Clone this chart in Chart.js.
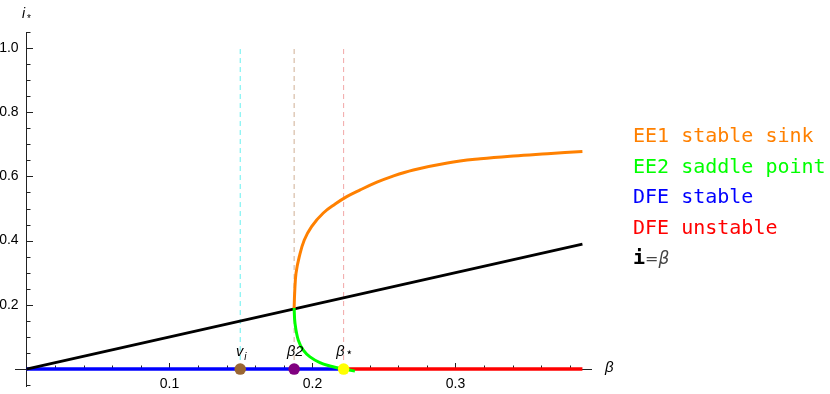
<!DOCTYPE html>
<html>
<head>
<meta charset="utf-8">
<script src="https://cdn.jsdelivr.net/npm/chart.js@4.4.1/dist/chart.umd.min.js"></script>
<style>
    html, body { margin: 0; padding: 0; background: #fff; }
    #wrap { position: relative; width: 830px; height: 394px; }
    #legend {
        position: absolute; left: 633px; top: 120px;
        font-family: 'DejaVu Sans Mono', monospace; font-size: 20px;
        line-height: 30.5px;
    }
    #legend div { white-space: nowrap; height: 30.5px; }
    #legend .eq { font-family: 'DejaVu Sans', sans-serif; font-size: 16px; color: #444; line-height: 1; }
    #legend .bt { font-family: 'DejaVu Sans', sans-serif; font-style: italic; font-size: 17px; color: #444; line-height: 1; }
</style>
</head>
<body>
<div id="wrap">
    <canvas id="chart" width="830" height="394"></canvas>
    <div id="legend">
        <div style="color:#ff8000">EE1 stable sink</div>
        <div style="color:#00ff00">EE2 saddle point</div>
        <div style="color:#0000ff">DFE stable</div>
        <div style="color:#ff0000">DFE unstable</div>
        <div style="color:#000"><b>i</b><span class="eq">=</span><span class="bt">β</span></div>
    </div>
</div>
<script>
/* ======== Data ======== */
const xMin = -0.008, xMax = 0.3955;
const yMin = -0.056, yMax = 1.05;

const xMajorTicks = [0.1, 0.2, 0.3];
const xMinorTicks = [0.02, 0.04, 0.06, 0.08, 0.12, 0.14, 0.16, 0.18, 0.22, 0.24, 0.26, 0.28, 0.32, 0.34, 0.36, 0.38];
const yMajorTicks = [0.2, 0.4, 0.6, 0.8, 1.0];
const yMinorTicks = [-0.05, 0.05, 0.1, 0.15, 0.25, 0.3, 0.35, 0.45, 0.5, 0.55, 0.65, 0.7, 0.75, 0.85, 0.9, 0.95, 1.05];

// EE1 (stable sink) branch
const ee1Beta = [0.1872, 0.1876, 0.1885, 0.1908, 0.1943, 0.1994, 0.2076, 0.2159, 0.2240, 0.2334, 0.2451, 0.2544, 0.2706, 0.2944, 0.3175, 0.3406, 0.3644, 0.3888];
const ee1I    = [0.190, 0.240, 0.298, 0.350, 0.402, 0.444, 0.486, 0.514, 0.537, 0.558, 0.582, 0.598, 0.620, 0.642, 0.655, 0.664, 0.671, 0.678];
// EE2 (saddle point) branch
const ee2Beta = [0.1872, 0.1878, 0.1901, 0.1936, 0.1983, 0.2052, 0.2122, 0.2192, 0.2218, 0.2297];
const ee2I    = [0.190, 0.143, 0.090, 0.059, 0.038, 0.020, 0.0094, 0.0022, 0.0, -0.0065];
// disease free equilibrium
const dfeStableBeta = [0, 0.2218];
const dfeUnstableBeta = [0.2218, 0.3888];
// i = beta reference line
const diagBeta = [0, 0.3888];

// special points: v_i, beta2, beta*
const markerBeta = [0.1495, 0.1872, 0.2218];
const markerNames = ['v', 'β2', 'β'];
const markerSubs = ['i', '', '⋆'];
const guideTop = 1.0;

/* ======== Styles ======== */
const markerColors = ['#996633', '#800080', '#ffff00'];
const guideColors = ['rgba(0,230,230,0.6)', 'rgba(170,110,60,0.55)', 'rgba(230,80,80,0.5)'];

const pts = (xs, ys) => xs.map((v, k) => ({ x: v, y: ys[k] }));
const flat = (xs, val) => xs.map(v => ({ x: v, y: val }));

const datasets = [];
markerBeta.forEach((b, k) => datasets.push({
    data: [{ x: b, y: 0 }], showLine: false,
    pointRadius: 5.8, pointHoverRadius: 5.8, pointBorderWidth: 0,
    pointBackgroundColor: markerColors[k]
}));
datasets.push(
    { data: pts(ee1Beta, ee1I), borderColor: '#ff8000', borderWidth: 3, tension: 0.4 },
    { data: pts(ee2Beta, ee2I), borderColor: '#00ff00', borderWidth: 3, tension: 0.4 },
    { data: pts(diagBeta, diagBeta), borderColor: '#000', borderWidth: 2.8 },
    { data: flat(dfeStableBeta, 0), borderColor: '#0000ff', borderWidth: 3.5 },
    { data: flat(dfeUnstableBeta, 0), borderColor: '#ff0000', borderWidth: 3.5 }
);
markerBeta.forEach((b, k) => datasets.push({
    data: [{ x: b, y: 0 }, { x: b, y: guideTop }],
    borderColor: guideColors[k], borderWidth: 1, borderDash: [5, 4]
}));
datasets.forEach(d => { if (d.pointRadius === undefined) d.pointRadius = 0; });

/* ======== Mathematica style axes through the origin ======== */
const axesPlugin = {
    id: 'originAxes',
    beforeDatasetsDraw(chart) {
        const { ctx, scales: { x, y } } = chart;
        const x0 = Math.round(x.getPixelForValue(0)) + 0.5;
        const y0 = Math.round(y.getPixelForValue(0)) + 0.5;
        ctx.save();
        ctx.strokeStyle = '#222';
        ctx.lineWidth = 1;
        ctx.beginPath();
        ctx.moveTo(x.left, y0); ctx.lineTo(x.right, y0);
        ctx.moveTo(x0, y.top); ctx.lineTo(x0, y.bottom);
        const tick = (vals, len) => {
            vals.forEach(v => {
                const px = Math.round(x.getPixelForValue(v)) + 0.5;
                ctx.moveTo(px, y0); ctx.lineTo(px, y0 - len);
            });
        };
        tick(xMajorTicks, 6.5); tick(xMinorTicks, 4);
        const ytick = (vals, len) => {
            vals.forEach(v => {
                const py = Math.round(y.getPixelForValue(v)) + 0.5;
                ctx.moveTo(x0, py); ctx.lineTo(x0 + len, py);
            });
        };
        ytick(yMajorTicks, 6.5); ytick(yMinorTicks, 4);
        ctx.stroke();
        ctx.restore();
    },
    afterDatasetsDraw(chart) {
        const { ctx, scales: { x, y } } = chart;
        const y0 = y.getPixelForValue(0);
        ctx.save();
        ctx.fillStyle = '#000';
        ctx.textBaseline = 'alphabetic';
        // labels over the special points
        markerBeta.forEach((b, k) => {
            const mainFont = 'italic 14.5px "Liberation Sans"';
            const subFont = k === 2 ? '12px "DejaVu Sans"' : 'italic 10px "Liberation Sans"';
            ctx.font = mainFont;
            const w1 = ctx.measureText(markerNames[k]).width;
            ctx.font = subFont;
            const w2 = markerSubs[k] ? ctx.measureText(markerSubs[k]).width + 1 : 0;
            const left = x.getPixelForValue(b) - (w1 + w2) / 2 + 1;
            const base = y0 - 13;
            ctx.font = mainFont;
            ctx.fillText(markerNames[k], left, base);
            if (markerSubs[k]) {
                ctx.font = subFont;
                ctx.fillText(markerSubs[k], left + w1 + 1, k === 2 ? base : base + 4);
            }
        });
        // axis titles
        ctx.font = 'italic 14px "Liberation Sans"';
        ctx.fillText('i', x.getPixelForValue(0) - 4.5, 17.5);
        ctx.font = '10px "Liberation Sans"';
        ctx.fillText('*', x.getPixelForValue(0) + 0.5, 22);
        ctx.font = 'italic 15px "Liberation Sans"';
        ctx.fillText('β', x.right + 13, y0 + 3);
        ctx.restore();
    }
};

Chart.defaults.font.family = "'Liberation Sans', sans-serif";
Chart.defaults.color = '#000';

// keep the axis label boxes from growing the plot margins
const noPad = s => { s.paddingTop = 0; s.paddingBottom = 0; s.paddingLeft = 0; s.paddingRight = 0; };

new Chart(document.getElementById('chart'), {
    type: 'line',
    data: { datasets },
    plugins: [axesPlugin],
    options: {
        responsive: false,
        animation: false,
        events: [],
        layout: { padding: { left: 15, right: 238, top: 32, bottom: 7 } },
        plugins: { legend: { display: false }, tooltip: { enabled: false } },
        elements: { line: { fill: false, borderCapStyle: 'butt' } },
        scales: {
            x: {
                type: 'linear', min: xMin, max: xMax, position: { y: 0 },
                grid: { display: false, drawTicks: false }, border: { display: false },
                afterBuildTicks: s => { s.ticks = xMajorTicks.map(v => ({ value: v })); },
                afterFit: noPad,
                ticks: { padding: 7, font: { size: 14 }, maxRotation: 0, callback: v => v.toFixed(1) }
            },
            y: {
                type: 'linear', min: yMin, max: yMax, position: { x: 0 },
                grid: { display: false, drawTicks: false }, border: { display: false },
                afterBuildTicks: s => { s.ticks = yMajorTicks.map(v => ({ value: v })); },
                afterFit: noPad,
                ticks: { padding: 0, font: { size: 14 }, callback: v => v.toFixed(1) + '  ' }
            }
        }
    }
});
</script>
</body>
</html>
